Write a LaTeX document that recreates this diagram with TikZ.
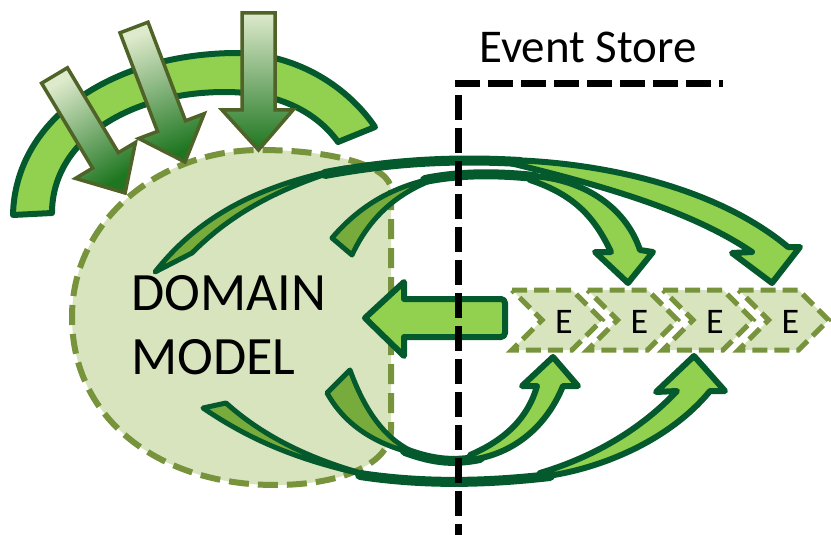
\documentclass[tikz,border=0pt]{standalone}
\usepackage{fontspec}
\setmainfont{Carlito}
\definecolor{dkg}{RGB}{5,90,45}
\definecolor{ltg}{RGB}{146,208,80}
\definecolor{olv}{RGB}{119,172,60}
\definecolor{dmf}{RGB}{215,228,189}
\definecolor{dml}{RGB}{119,147,60}
\definecolor{arl}{RGB}{79,98,40}
\definecolor{grT}{RGB}{222,234,204}
\definecolor{grB}{RGB}{30,118,32}
\begin{document}
\begin{tikzpicture}[x=1pt,y=1pt,
  band/.style={draw=dkg, line width=6pt, line join=round, fill=ltg},
  back/.style={draw=dkg, line width=5pt, line join=round, fill=olv},
  mid/.style={draw=dkg, line width=10pt, line cap=round},
  dn/.style={draw=arl, line width=3.5pt, line join=miter, top color=grT, bottom color=grB},
  chev/.style={draw=dml, fill=dmf, line width=5pt, dash pattern=on 15pt off 7pt},
  dm/.style={draw=dml, fill=dmf, line width=6pt, dash pattern=on 20pt off 9pt},
  txt/.style={inner sep=0pt, text=black},
  store/.style={draw=black, line width=7pt, dash pattern=on 25pt off 8pt}]
\useasboundingbox (0,0) rectangle (831,-535);

% top-left arc
\draw[band] (13,-215) .. controls (15,-120) and (110,-55) .. (233,-53)
  .. controls (300,-53) and (350,-90) .. (375,-127) -- (338,-142)
  .. controls (315,-110) and (275,-92) .. (225,-92)
  .. controls (130,-92) and (52,-140) .. (52,-213) -- cycle;

% domain model
\draw[dm] (391,-190) -- (391,-430) .. controls (391,-462) and (345,-485) .. (275,-485)
  .. controls (160,-485) and (72,-420) .. (72,-317)
  .. controls (72,-220) and (160,-150) .. (260,-150)
  .. controls (330,-150) and (391,-165) .. (391,-190) -- cycle;

% incoming commands
\draw[dn] (242,-13) -- (275,-13) -- (275,-110) -- (293,-110) -- (258.5,-150) -- (222,-110) -- (242,-110) -- cycle;
\draw[dn, shading angle=20.8] (148,-22.2) -- (185.5,-120.8) -- (204.2,-113.7) -- (185,-162) -- (138.8,-138.5) -- (157.5,-131.4) -- (120,-32.8) -- cycle;
\draw[dn, shading angle=31] (67.4,-67.8) -- (118.4,-152.7) -- (135.5,-142.4) -- (125.1,-193) -- (75.5,-178.4) -- (92.6,-168.1) -- (41.6,-83.2) -- cycle;

% events
\foreach \xo [count=\k] in {512,587.5,663,738.5} {
  \draw[chev] (\xo,-290) -- ++(60,0) -- ++(30,-30) -- ++(-30,-30) -- ++(-60,0) -- ++(30,30) -- cycle;
  \node[txt, anchor=base, font=\fontsize{36}{40}\selectfont] (e\k) at (\xo+52,-333) {E};
}

% replay arrow
\draw[band, line width=6pt] (365,-318) -- (404,-282) -- (404,-299) [rounded corners=4pt] -- (505,-299) -- (505,-337) [sharp corners] -- (404,-337) -- (404,-356) -- cycle;

% outer top ribbon
\draw[back] (155,-272) .. controls (200,-215) and (260,-185) .. (345,-168) .. controls (272,-190) and (228,-217) .. (192,-253) -- cycle;
\draw[mid] (325,-174) .. controls (390,-162) and (450,-158) .. (520,-162);
\draw[band] (510,-160) .. controls (610,-163) and (720,-190) .. (788,-247) -- (800,-247) -- (772,-283) -- (732,-253) -- (752,-252) .. controls (690,-210) and (600,-185) .. (510,-163) -- cycle;

% inner top ribbon
\draw[back] (332,-238) .. controls (360,-205) and (395,-185) .. (440,-177) .. controls (403,-190) and (372,-212) .. (352,-255) -- cycle;
\draw[mid] (425,-180) .. controls (460,-173) and (495,-173) .. (535,-177);
\draw[band] (530,-176) .. controls (580,-178) and (625,-205) .. (640,-250) -- (653,-252) -- (628,-283) -- (595,-252) -- (611,-252) .. controls (595,-218) and (575,-195) .. (530,-180) -- cycle;

% inner bottom ribbon
\draw[back] (327,-393) .. controls (345,-425) and (375,-445) .. (420,-455) .. controls (395,-445) and (370,-425) .. (350,-370) -- cycle;
\draw[mid] (405,-451) .. controls (435,-462) and (455,-463) .. (480,-458);
\draw[band] (470,-460) .. controls (510,-455) and (545,-430) .. (563,-386) -- (578,-386) -- (553,-357) -- (522,-386) -- (537,-386) .. controls (528,-418) and (505,-440) .. (470,-455) -- cycle;

% outer bottom ribbon
\draw[back] (203,-408) .. controls (250,-440) and (300,-462) .. (380,-478) .. controls (315,-462) and (265,-438) .. (226,-403) -- cycle;
\draw[mid] (360,-475) .. controls (420,-484) and (480,-484) .. (550,-476);
\draw[band] (540,-477) .. controls (600,-470) and (670,-440) .. (710,-391) -- (725,-391) -- (694,-356) -- (656,-392) -- (677,-391) .. controls (645,-425) and (600,-455) .. (540,-473) -- cycle;

% texts
\node[txt, anchor=base west, font=\fontsize{54}{60}\selectfont] (dm1) at (131,-310) {DOMAIN};
\node[txt, anchor=base west, font=\fontsize{54}{60}\selectfont] (dm2) at (131,-374) {MODEL};
\node[txt, anchor=base west, font=\fontsize{47}{50}\selectfont] (es) at (479,-63) {Event Store};

% event store boundary
\draw[store] (455,-84) -- (723,-84);
\draw[store] (458,-95) -- (458,-535);
\end{tikzpicture}
\end{document}
